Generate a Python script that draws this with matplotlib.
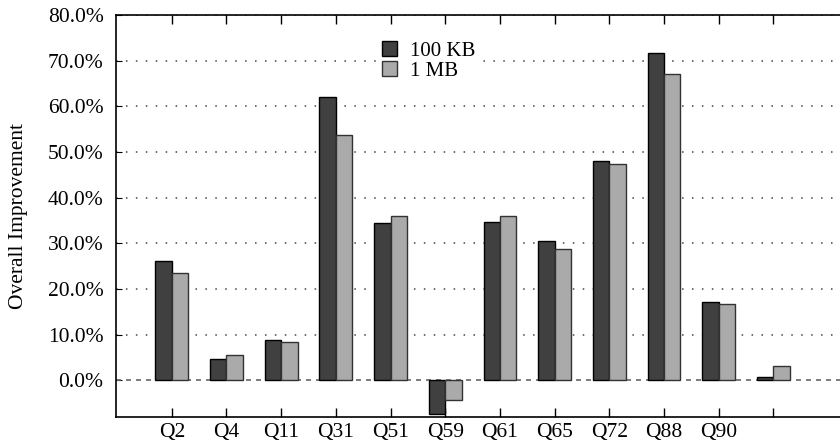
import matplotlib
matplotlib.use("Agg")
import matplotlib.pyplot as plt
import numpy as np

queries = ["Q2", "Q4", "Q11", "Q31", "Q51", "Q59", "Q61", "Q65", "Q72", "Q88", "Q90", ""]
kb100 = [26.1, 4.7, 8.9, 62.1, 34.5, -7.4, 34.6, 30.6, 48.1, 71.6, 17.1, 0.8]
mb1 = [23.6, 5.6, 8.4, 53.7, 35.9, -4.2, 35.9, 28.8, 47.3, 67.0, 16.8, 3.1]

plt.rcParams['font.family'] = ['Liberation Serif', 'DejaVu Serif']

fig = plt.figure(figsize=(8.4, 4.45), dpi=100)
ax = fig.add_axes([116 / 840, 28 / 445, 734 / 840, 402 / 445])

x = np.arange(len(queries))
w = 0.3
ax.bar(x - w / 2, kb100, w, color='#404040', edgecolor='black', linewidth=1, label='100 KB', zorder=3)
ax.bar(x + w / 2, mb1, w, color='#aaaaaa', edgecolor='#333333', linewidth=1, label='1 MB', zorder=3)

ax.set_xlim(-1.02, 12.4)
ax.set_ylim(-8, 80)
ax.set_yticks(np.arange(0, 81, 10))
ax.set_yticklabels([f"{v:.1f}%" for v in np.arange(0, 81, 10)], fontsize=15.5)
ax.set_xticks(x)
ax.set_xticklabels(queries, fontsize=15.5)
ax.tick_params(axis='x', direction='in', length=6.5, top=True, width=1, pad=4)
ax.tick_params(axis='y', direction='in', length=4, width=0.8, pad=9)

for v in np.arange(10, 81, 10):
    ax.axhline(v, color='#444444', linestyle=(0, (1, 5.5)), linewidth=1.1, zorder=1)
ax.axhline(0, color='#666666', linestyle=(0, (3, 3)), linewidth=1.2, zorder=2)

ax.spines['right'].set_visible(False)
for s in ['left', 'top', 'bottom']:
    ax.spines[s].set_linewidth(1.2)

ax.set_ylabel('Overall Improvement', fontsize=15.5)
ax.yaxis.set_label_coords(-0.12, 0.5)

leg = ax.legend(loc='upper left', bbox_to_anchor=(0.342, 0.972), frameon=True, fontsize=15,
                handlelength=0.75, handleheight=0.75, handletextpad=0.6, labelspacing=0.0,
                borderpad=0.2, fancybox=False)
leg.get_frame().set_edgecolor('white')
leg.get_frame().set_facecolor('white')
leg.get_frame().set_alpha(1)

fig.savefig('out.png', dpi=100)
